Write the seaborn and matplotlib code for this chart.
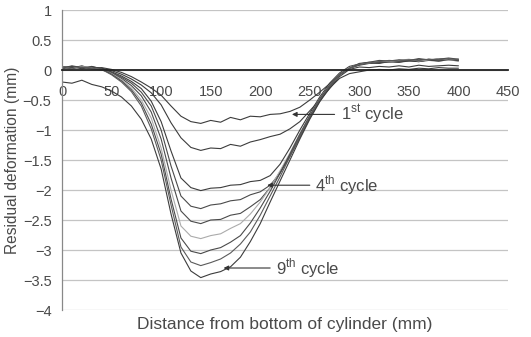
import numpy as np
import pandas as pd
import matplotlib
matplotlib.use("Agg")
import matplotlib.pyplot as plt
import seaborn as sns

# ---- data ----
distance = list(range(0, 410, 10))  # mm

cycle1 = [0.05, 0.03, 0.07, 0.02, 0.04, 0.01, -0.04, -0.11, -0.2, -0.3, -0.42, -0.6, -0.77, -0.86, -0.89,
          -0.84, -0.87, -0.79, -0.83, -0.77, -0.78, -0.74, -0.73, -0.69, -0.62, -0.5, -0.37, -0.23, -0.08,
          0.03, 0.08, 0.11, 0.12, 0.14, 0.13, 0.16, 0.14, 0.17, 0.15, 0.17, 0.16]
cycle2 = [0.03, 0.06, 0.02, 0.05, 0.03, -0.01, -0.07, -0.15, -0.25, -0.38, -0.58, -0.88, -1.13, -1.29, -1.34,
          -1.3, -1.31, -1.24, -1.27, -1.2, -1.16, -1.11, -1.07, -0.98, -0.86, -0.68, -0.5, -0.31, -0.11,
          0.01, 0.05, 0.04, 0.06, 0.05, 0.07, 0.05, 0.08, 0.06, 0.07, 0.08, 0.07]
cycle3 = [0.04, 0.05, 0.03, 0.06, 0.02, -0.03, -0.1, -0.19, -0.31, -0.52, -0.86, -1.35, -1.8, -1.96, -2.01,
          -1.97, -1.96, -1.92, -1.91, -1.86, -1.84, -1.76, -1.57, -1.3, -1.0, -0.72, -0.45, -0.22, -0.05,
          0.06, 0.1, 0.12, 0.11, 0.14, 0.13, 0.15, 0.14, 0.16, 0.15, 0.17, 0.15]
cycle4 = [0.06, 0.04, 0.05, 0.03, 0.01, -0.04, -0.12, -0.22, -0.37, -0.6, -1.0, -1.6, -2.1, -2.27, -2.31,
          -2.25, -2.23, -2.18, -2.16, -2.08, -2.03, -1.92, -1.72, -1.44, -1.12, -0.8, -0.52, -0.28, -0.08,
          0.04, 0.1, 0.13, 0.12, 0.15, 0.14, 0.17, 0.15, 0.18, 0.16, 0.18, 0.17]
cycle5 = [0.02, 0.05, 0.04, 0.02, 0.0, -0.05, -0.14, -0.26, -0.43, -0.7, -1.15, -1.8, -2.35, -2.52, -2.56,
          -2.5, -2.49, -2.42, -2.39, -2.28, -2.16, -1.96, -1.7, -1.41, -1.08, -0.78, -0.5, -0.27, -0.08,
          0.03, 0.09, 0.12, 0.14, 0.13, 0.16, 0.15, 0.18, 0.16, 0.19, 0.17, 0.18]
cycle6 = [0.05, 0.02, 0.06, 0.04, 0.01, -0.06, -0.16, -0.3, -0.5, -0.8, -1.3, -2.0, -2.6, -2.77, -2.81,
          -2.76, -2.73, -2.64, -2.56, -2.4, -2.2, -1.96, -1.68, -1.38, -1.06, -0.76, -0.48, -0.25, -0.07,
          0.04, 0.1, 0.12, 0.15, 0.14, 0.16, 0.18, 0.15, 0.17, 0.19, 0.16, 0.18]
cycle7 = [0.03, 0.07, 0.04, 0.05, 0.02, -0.07, -0.18, -0.33, -0.55, -0.9, -1.4, -2.15, -2.8, -3.02, -3.06,
          -3.0, -2.96, -2.87, -2.76, -2.55, -2.3, -2.02, -1.72, -1.4, -1.07, -0.76, -0.48, -0.25, -0.07,
          0.03, 0.11, 0.13, 0.16, 0.15, 0.17, 0.16, 0.19, 0.17, 0.18, 0.2, 0.18]
cycle8 = [0.04, 0.02, 0.05, 0.03, 0.01, -0.08, -0.2, -0.36, -0.6, -0.98, -1.5, -2.25, -2.95, -3.2, -3.26,
          -3.21, -3.15, -3.05, -2.9, -2.7, -2.42, -2.1, -1.78, -1.44, -1.1, -0.78, -0.5, -0.27, -0.08,
          0.03, 0.09, 0.12, 0.14, 0.16, 0.15, 0.17, 0.16, 0.18, 0.17, 0.19, 0.17]
cycle9 = [-0.2, -0.22, -0.17, -0.24, -0.28, -0.35, -0.45, -0.6, -0.82, -1.15, -1.65, -2.4, -3.05, -3.35, -3.46,
          -3.4, -3.36, -3.28, -3.12, -2.86, -2.56, -2.2, -1.85, -1.5, -1.15, -0.82, -0.53, -0.3, -0.14,
          -0.06, -0.03, 0.0, 0.01, 0.0, 0.02, 0.01, 0.03, 0.02, 0.04, 0.03, 0.03]

series = [cycle1, cycle2, cycle3, cycle4, cycle5, cycle6, cycle7, cycle8, cycle9]
cycle_names = ["1", "2", "3", "4", "5", "6", "7", "8", "9"]
line_colors = ["#3c3c3c", "#3c3c3c", "#3c3c3c", "#4a4a4a", "#4a4a4a", "#ababab", "#4a4a4a", "#5a5a5a", "#3c3c3c"]

xticks = [0, 50, 100, 150, 200, 250, 300, 350, 400, 450]
yticks = [1, 0.5, 0, -0.5, -1, -1.5, -2, -2.5, -3, -3.5, -4]

# annotations: label, arrow tip (x, y), line end x, text x
ann_labels = [r"1$^{\mathrm{st}}$ cycle", r"4$^{\mathrm{th}}$ cycle", r"9$^{\mathrm{th}}$ cycle"]
ann_tip = [(232, -0.74), (207, -1.92), (163, -3.30)]
ann_line_end = [275, 250, 210]
ann_text_x = [281, 255, 216]

# ---- build frame ----
df = pd.concat(
    [pd.DataFrame({"distance": distance, "deformation": s, "cycle": n}) for s, n in zip(series, cycle_names)],
    ignore_index=True,
)

sns.set_style("white")
plt.rcParams["font.family"] = ["Liberation Sans", "DejaVu Sans"]
plt.rcParams["mathtext.fontset"] = "custom"
plt.rcParams["mathtext.rm"] = "Liberation Sans"
plt.rcParams["axes.unicode_minus"] = True

fig = plt.figure(figsize=(5.31, 3.37), dpi=100)
ax = fig.add_axes([0.1168, 0.0801, 0.8399, 0.8902])

sns.lineplot(data=df, x="distance", y="deformation", hue="cycle", palette=line_colors,
             estimator=None, sort=False, legend=False, linewidth=0.8, ax=ax)

ax.set_xlim(0, 450)
ax.set_ylim(-4, 1)
ax.set_xticks(xticks)
ax.set_yticks(yticks)
ax.set_yticks(np.arange(-4, 1.01, 0.1), minor=True)

text_col = "#4a4a4a"
ax.yaxis.grid(True, color="#c4c4c4", linewidth=0.9)
ax.set_axisbelow(True)

for s in ["top", "right"]:
    ax.spines[s].set_visible(False)
ax.spines["bottom"].set_position(("data", 0))
ax.spines["bottom"].set_color("#222222")
ax.spines["bottom"].set_linewidth(1.3)
ax.spines["left"].set_color("#888888")
ax.spines["left"].set_linewidth(0.9)

ax.tick_params(axis="x", length=0, pad=11, labelsize=10.5, labelcolor=text_col)
ax.tick_params(axis="y", which="major", direction="inout", length=5, width=0.8, color="#888888",
               pad=5, labelsize=10.5, labelcolor=text_col)
ax.tick_params(axis="y", which="minor", direction="inout", length=2.5, width=0.6, color="#999999")
ax.set_yticklabels([("%g" % v).replace("-", "\u2212") for v in yticks])

ax.set_xlabel("Distance from bottom of cylinder (mm)", fontsize=12.5, color=text_col)
ax.xaxis.set_label_coords(0.5, -0.022)
ax.xaxis.label.set_va("top")
ax.set_ylabel("Residual deformation (mm)", fontsize=11.2, color=text_col, labelpad=2)

for lab, tip, lend, tx in zip(ann_labels, ann_tip, ann_line_end, ann_text_x):
    ax.annotate("", xy=tip, xytext=(lend, tip[1]),
                arrowprops=dict(arrowstyle="-|>", color="#333333", lw=0.8,
                                mutation_scale=7, shrinkA=0, shrinkB=0))
    ax.text(tx, tip[1], lab, fontsize=12, color=text_col, va="center", ha="left")

fig.savefig("out.png", dpi=100)
